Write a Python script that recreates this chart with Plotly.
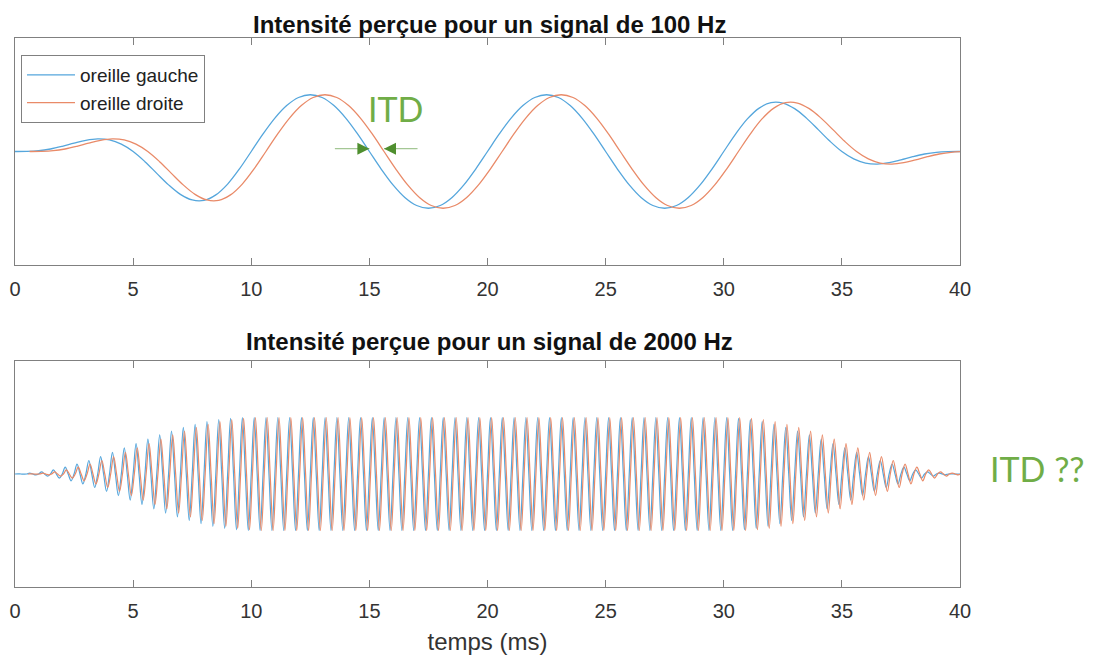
import plotly.graph_objects as go

# ---------------- data ----------------
X_RANGE = [0, 40]
Y_RANGE = [-2, 2]
X_TICKS = [0, 5, 10, 15, 20, 25, 30, 35, 40]
ITD_MS = 0.62                     # delay of the right ear, top panel (ms)
BOT_DELAY_MS = 0.55               # delay of the right ear as seen in the bottom panel (ms)

# top panel (100 Hz): left-ear signal sampled every 0.5 ms from 0 to 40 ms
TOP_STEP = 0.5
top_left = [
    0.0, 0.002, 0.014, 0.044, 0.091, 0.146, 0.196, 0.221, 0.203, 0.130,
    0.0, -0.179, -0.385, -0.588, -0.755, -0.854, -0.861, -0.765, -0.574, -0.307,
    0.0, 0.309, 0.588, 0.809, 0.951, 1.0, 0.951, 0.809, 0.588, 0.309,
    0.0, -0.309, -0.588, -0.809, -0.951, -1.0, -0.951, -0.809, -0.588, -0.309,
    0.0, 0.309, 0.588, 0.809, 0.951, 1.0, 0.951, 0.809, 0.588, 0.309,
    0.0, -0.309, -0.588, -0.809, -0.951, -1.0, -0.951, -0.809, -0.588, -0.309,
    0.0, 0.307, 0.574, 0.765, 0.861, 0.854, 0.755, 0.588, 0.385, 0.179,
    0.0, -0.130, -0.203, -0.221, -0.196, -0.146, -0.091, -0.044, -0.014, -0.002,
    0.0,
]

# bottom panel (2000 Hz): amplitude of each 0.5 ms cycle of the left-ear signal
BOT_PERIOD = 0.5
bot_cycle_amp = (
    [0.002, 0.014, 0.038, 0.074, 0.120, 0.175, 0.239, 0.309, 0.383, 0.461,
     0.539, 0.617, 0.691, 0.761, 0.825, 0.880, 0.926, 0.962, 0.986, 0.999]
    + [1.0] * 40
    + [0.999, 0.986, 0.962, 0.926, 0.880, 0.825, 0.761, 0.691, 0.617, 0.539,
       0.461, 0.383, 0.309, 0.239, 0.175, 0.120, 0.074, 0.038, 0.014, 0.002]
)

TITLES = ["Intensité perçue pour un signal de 100 Hz",
          "Intensité perçue pour un signal de 2000 Hz"]
SERIES_NAMES = ["oreille gauche", "oreille droite"]
X_LABEL = "temps (ms)"

# ---------------- styling ----------------
BLUE = "#55A6DC"
ORANGE = "#E98A68"
GREEN = "#70AD47"
AXIS_GREY = "#808080"
TEXT = "#333333"
FONT = "Liberation Sans, Arial, sans-serif"

W, H = 1085, 651      # page adds an 8 px body margin
OFF = 8
def px_x(p):
    return (p - OFF) / W
def px_y(p):
    return 1 - (p - OFF) / H

# top x positions of samples
top_t = [i * TOP_STEP for i in range(len(top_left))]

# bottom: build a smooth oscillation from the per-cycle amplitudes
bot_t, bot_left = [], []
for k, a in enumerate(bot_cycle_amp):
    t0 = k * BOT_PERIOD
    bot_t += [t0, t0 + BOT_PERIOD / 4, t0 + BOT_PERIOD / 2, t0 + 3 * BOT_PERIOD / 4]
    bot_left += [0.0, a, 0.0, -a]
bot_t.append(len(bot_cycle_amp) * BOT_PERIOD)
bot_left.append(0.0)

fig = go.Figure()

def add_pair(t, vals, delay, xa, ya, legend, width):
    fig.add_trace(go.Scatter(x=t, y=vals, mode="lines", name=SERIES_NAMES[0],
                             line=dict(color=BLUE, width=width, shape="spline", smoothing=1),
                             xaxis=xa, yaxis=ya, showlegend=legend))
    fig.add_trace(go.Scatter(x=[v + delay for v in t], y=vals, mode="lines", name=SERIES_NAMES[1],
                             line=dict(color=ORANGE, width=width, shape="spline", smoothing=1),
                             xaxis=xa, yaxis=ya, showlegend=legend))

add_pair(top_t, top_left, ITD_MS, "x", "y", True, 1.3)
add_pair(bot_t, bot_left, BOT_DELAY_MS, "x2", "y2", False, 1.2)

xdom = [px_x(15), px_x(960)]
ax_common = dict(range=X_RANGE, tickvals=X_TICKS, ticks="inside", ticklen=7,
                 tickcolor=AXIS_GREY, showline=True, linecolor=AXIS_GREY, linewidth=1,
                 mirror="ticks", showgrid=False, zeroline=False, automargin=False,
                 tickfont=dict(family=FONT, size=20, color=TEXT),
                 ticklabelstandoff=6, domain=xdom)
ay_common = dict(range=Y_RANGE, showticklabels=False, ticks="", showline=True,
                 linecolor=AXIS_GREY, linewidth=1, mirror=True, showgrid=False,
                 zeroline=False, automargin=False)

fig.update_layout(
    width=W, height=H,
    margin=dict(l=0, r=0, t=0, b=0),
    paper_bgcolor="white", plot_bgcolor="white",
    font=dict(family=FONT, color=TEXT),
    xaxis=dict(**ax_common, anchor="y"),
    yaxis=dict(**ay_common, domain=[px_y(265), px_y(38)], anchor="x"),
    xaxis2=dict(**ax_common, anchor="y2",
                title=dict(text=X_LABEL, font=dict(family=FONT, size=24, color=TEXT), standoff=12)),
    yaxis2=dict(**ay_common, domain=[px_y(587), px_y(361)], anchor="x2"),
    legend=dict(x=px_x(21), y=px_y(55), xanchor="left", yanchor="top",
                bgcolor="white", bordercolor=AXIS_GREY, borderwidth=1,
                font=dict(family=FONT, size=19, color="#222222"),
                tracegroupgap=0, itemwidth=48),
    showlegend=True,
)

ann = []
for title, ypx, anchor in zip(TITLES, [9, 341], ["top", "middle"]):
    ann.append(dict(text="<b>%s</b>" % title, x=px_x(489), y=px_y(ypx), xref="paper", yref="paper",
                    showarrow=False, xanchor="center", yanchor=anchor,
                    font=dict(family=FONT, size=24, color="#111111")))

ann.append(dict(text="ITD", x=16.1, y=px_y(108), xref="x", yref="paper", showarrow=False,
                xanchor="center", yanchor="middle",
                font=dict(family="Lato, Open Sans, sans-serif", size=34, color=GREEN)))
ann.append(dict(text="ITD ??", x=px_x(1037), y=px_y(468), xref="paper", yref="paper", showarrow=False,
                xanchor="center", yanchor="middle",
                font=dict(family="Lato, Open Sans, sans-serif", size=34, color=GREEN)))

# ITD arrows pointing at the zero crossings of the two curves
cross_left = 15.0
for tip, off in [(cross_left, -36), (cross_left + ITD_MS, 35)]:
    ann.append(dict(x=tip, y=0.05, xref="x", yref="y", text="", showarrow=True,
                    ax=off, ay=0, arrowhead=0, arrowwidth=1.3, arrowcolor="#a4c795",
                    standoff=0))
    ann.append(dict(x=tip, y=0.05, xref="x", yref="y", text="", showarrow=True,
                    ax=(-12 if off < 0 else 12), ay=0, arrowhead=2, arrowsize=2,
                    arrowwidth=1.2, arrowcolor="#4F8F2F", standoff=0))

fig.update_layout(annotations=ann)

fig.write_html("out.html")
